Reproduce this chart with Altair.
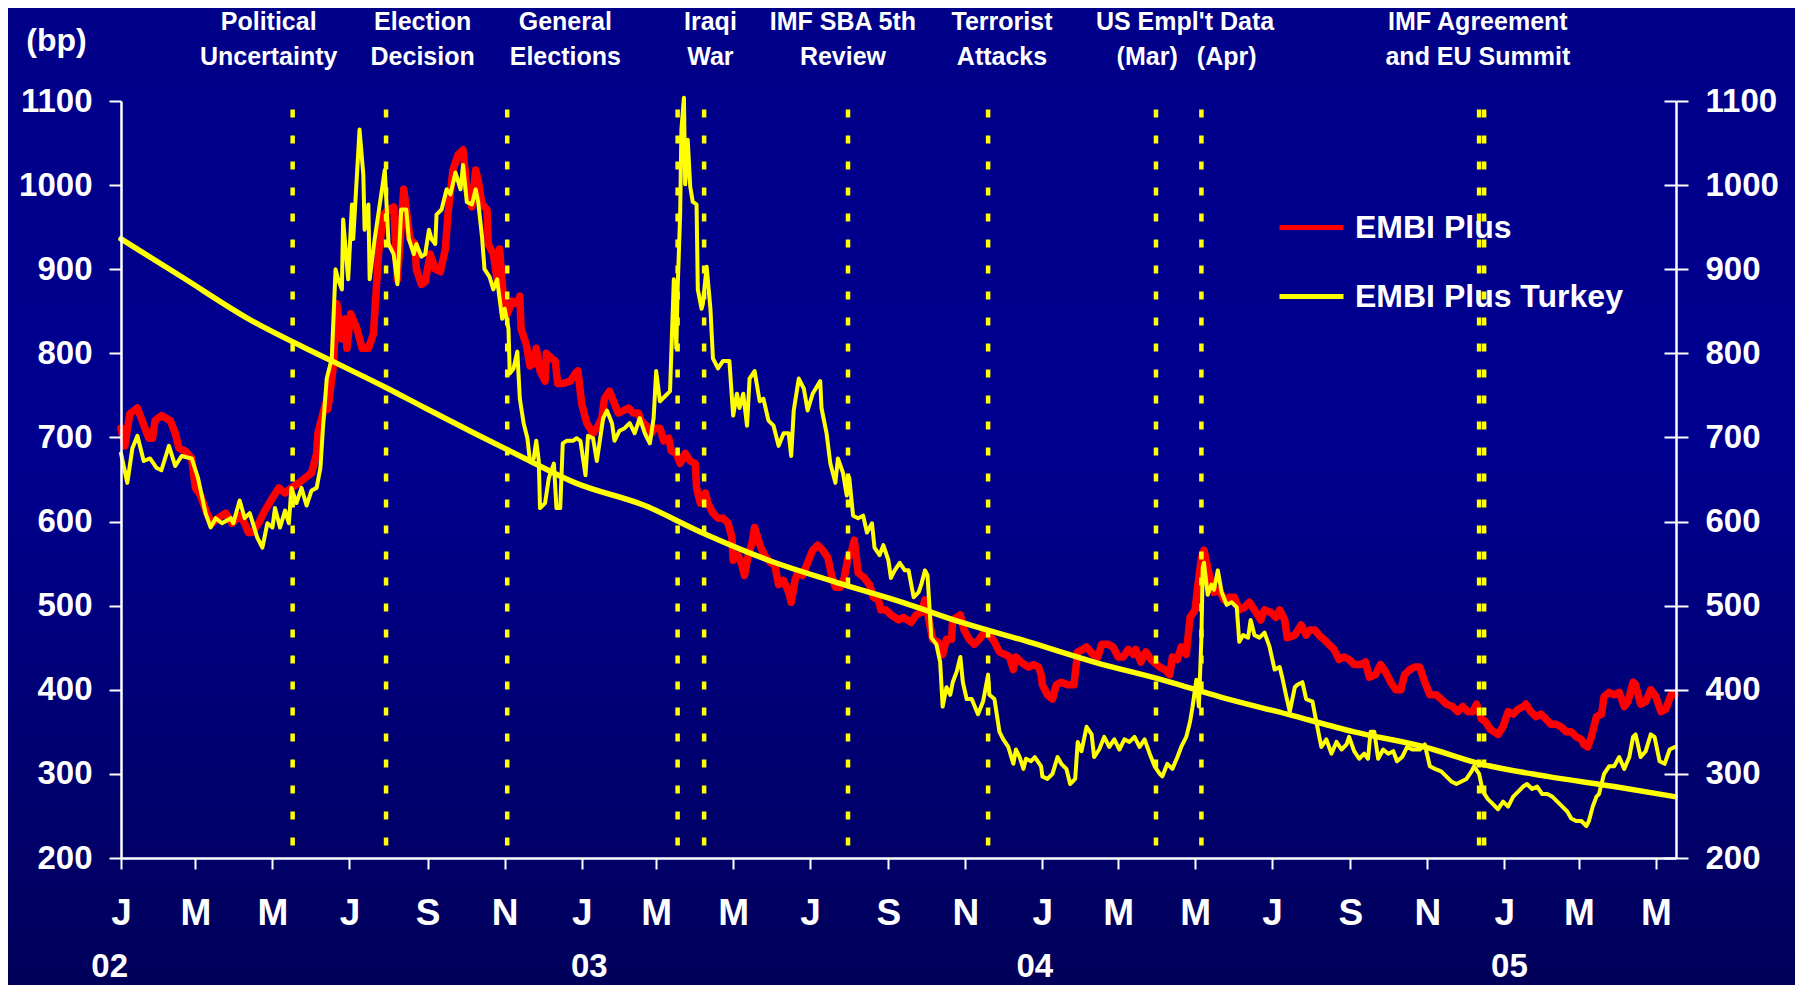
import altair as alt
import pandas as pd

FONT = "Liberation Sans"
WHITE = "#FFFFFF"
RED = "#FF0000"
YELLOW = "#FFFF00"

# ---------------- data (days since 2002-01-01, spread in bp) ----------------
embi_plus = [
    (0,711),(3,690),(7,728),(13,735),(19,711),(22,699),(25,699),(27,720),(32,726),(39,720),(43,705),(46,687),
    (51,684),(56,675),(59,640),(63,631),(68,610),(72,598),(77,604),(83,610),(88,598),(94,607),(98,598),(101,587),
    (104,587),(109,598),(114,613),(120,628),(125,640),(130,634),(135,640),(141,646),(146,652),(151,658),(155,681),
    (156,705),(162,740),(164,734),(168,782),(171,859),(175,817),(178,841),(179,806),(182,847),(187,829),(191,806),
    (196,806),(200,823),(204,918),(208,965),
    (212,971),(216,974),(219,888),(224,995),(226,971),(229,936),(233,930),(234,900),(238,882),(241,885),(245,918),
    (249,900),(253,897),(257,924),(259,965),(263,1018),(267,1036),(271,1042),(274,995),(278,974),(281,1018),
    (283,1006),(286,977),(290,971),(291,930),(295,918),(298,888),(300,924),(303,865),(306,847),(310,862),(314,859),
    (316,868),(317,829),(321,811),(324,785),(327,788),(329,806),(332,779),(336,767),(337,800),(341,794),(344,791),
    (346,764),(350,764),(356,767),(360,776),(362,779),(365,740),(369,717),(374,705),(377,711),(381,723),(383,746),
    (387,755),(391,740),(394,729),(398,732),(402,735),(406,729),(410,729),
    (412,720),(418,711),(420,705),(423,711),(427,711),(430,696),(434,699),(436,684),(440,681),(443,669),(447,681),
    (451,672),(455,669),(456,640),(459,622),(463,634),(465,622),(469,610),(473,604),(477,604),(481,598),(484,581),
    (485,554),(489,560),(492,548),(494,536),(497,560),(500,575),(502,593),(505,578),(507,569),(511,557),(515,551),
    (518,548),(521,525),(525,530),(529,516),(531,504),(534,530),(536,539),(540,536),(544,551),(548,566),(552,572),
    (556,566),(560,557),(563,536),(566,522),(570,522),(573,533),(576,557),(579,566),(581,578),(584,539),(589,533),
    (593,525),(596,510),(600,507),(602,495),(606,495),(610,489),(616,483),(620,486),
    (626,480),(630,489),(634,492),(637,507),(639,492),(643,460),(647,457),(651,442),(654,460),(658,460),(659,483),
    (665,489),(668,471),(672,460),(676,454),(680,460),(684,468),(688,465),(692,457),(696,445),(700,442),(704,439),
    (707,424),(709,439),(713,433),(719,427),(723,430),(727,427),(729,418),(730,406),(734,394),(738,389),(741,406),
    (745,409),(750,406),(755,406),(758,445),(762,448),(765,451),(770,442),(774,439),(777,454),(782,454),(786,451),
    (790,439),(794,439),(798,448),(802,442),(804,448),(808,433),(812,445),(816,436),
    (823,427),(827,424),(831,418),(833,439),(837,436),(840,451),(844,442),(847,486),(851,495),(853,522),(856,557),
    (858,566),(861,545),(864,525),(866,516),(870,519),(874,507),(878,510),(882,510),(886,495),(890,498),(894,504),
    (898,495),(903,483),(906,495),(911,492),(915,486),(918,495),(922,483),(924,462),(930,465),(935,477),(939,465),
    (942,471),(946,471),(949,465),(953,460),(957,454),(961,448),(965,436),(969,439),(973,436),(977,430),(982,430),
    (986,433),(989,415),(994,418),(998,430),(1002,421),(1006,409),(1010,400),(1014,400),(1017,418),(1021,424),
    (1025,427),(1029,427),(1033,409),(1037,394),(1042,394),(1046,389),(1050,383),(1055,380),(1059,374),(1063,380),
    (1067,374),(1071,374),(1074,383),(1078,365),(1081,362),(1085,353),(1091,347),(1095,356),(1099,374),(1103,371),
    (1107,377),(1111,380),(1113,383),(1117,374),(1121,368),(1125,371),(1129,365),(1133,359),(1137,359),(1141,356),
    (1145,350),(1149,350),(1153,344),(1157,341),(1159,335),(1162,332),(1165,344),(1169,368),(1173,371),(1175,392),
    (1179,397),(1183,394),(1187,397),(1191,380),(1194,386),(1198,409),(1200,406),(1204,383),(1208,386),(1212,400),
    (1216,392),(1220,374),(1224,377),(1228,394),(1231,394),
]

embi_plus_turkey = [
    (0,681),(5,646),(9,687),(13,702),(18,672),(23,675),(28,664),(32,661),(38,690),(43,666),(48,678),(56,675),
    (61,652),(67,610),(71,593),(75,604),(80,598),(87,604),(89,598),(94,625),(98,604),(102,610),(108,581),(112,569),
    (116,598),(120,593),(122,616),(126,593),(130,613),(133,598),(135,640),(139,622),(143,640),(147,619),(151,637),
    (155,640),(158,664),(160,711),(163,770),(167,794),(170,900),(172,888),(175,876),(176,959),(180,888),(183,977),
    (184,936),(189,1066),(192,1012),(193,947),(196,977),(197,888),(201,936),(205,977),(209,1018),
    (212,930),(216,918),(219,882),(222,971),(226,971),(228,936),(232,918),(234,930),(238,915),(241,918),(244,947),
    (246,936),(249,930),(250,965),(254,971),(258,995),(261,989),(265,1015),(269,995),(271,1024),(274,980),(278,977),
    (281,995),(283,980),(286,939),(288,900),(292,891),(295,876),(298,888),(302,841),(304,853),(307,829),(308,776),
    (311,782),(314,802),(316,746),(319,717),(322,699),(324,672),(327,675),(329,696),(331,672),(332,616),(336,622),
    (339,652),(343,669),(345,616),(348,616),(350,693),(353,696),(358,696),(361,699),(364,696),(368,655),(370,702),
    (374,699),(377,672),(382,723),(385,732),(389,717),(391,696),(395,708),(399,711),(403,717),(407,705),(411,723),
    (415,705),(419,693),(422,723),(424,779),(427,743),(431,749),(435,755),(438,888),(440,806),(441,876),(443,965),
    (444,1066),(446,1104),(447,1001),(449,1054),(451,998),(453,980),(456,977),(457,876),(460,853),(461,859),
    (464,903),(467,853),(469,794),(473,782),(477,791),(482,791),(485,726),(488,752),(490,735),(493,752),(496,714),
    (498,770),(502,779),(506,743),(509,746),(513,720),(517,714),(521,690),(525,705),(529,705),(531,678),(533,732),
    (537,770),(541,758),(544,732),(548,752),(554,767),(555,735),(559,705),(562,669),(566,646),(568,675),(572,658),
    (575,631),(577,652),(580,607),(584,604),(588,607),(591,587),(595,598),(597,569),(601,560),(604,572),(608,554),
    (610,533),(613,542),(617,551),(621,542),
    (624,542),(628,510),(632,516),(634,525),(637,542),(639,536),(642,462),(646,454),(649,433),(651,380),(654,403),
    (657,394),(659,409),(662,421),(665,439),(667,409),(670,389),(674,389),(679,371),(683,386),(687,418),(688,394),
    (692,389),(696,350),(699,341),(703,332),(707,312),(709,329),(712,320),(715,306),(717,318),(721,315),(724,320),
    (729,309),(730,297),(734,294),(738,300),(742,320),(745,312),(749,306),(752,288),(756,294),(758,338),(761,327),
    (765,356),(769,347),(771,320),(775,329),(779,344),(783,332),(787,341),(791,329),(795,341),(799,338),(803,344),
    (807,332),(811,341),(815,324),
    (819,309),(823,300),(825,297),(829,312),(833,306),(837,320),(840,332),(844,344),(847,362),(849,380),(852,412),
    (854,380),(856,462),(857,545),(858,551),(861,513),(864,525),(866,519),(869,542),(872,516),(876,501),(880,504),
    (884,498),(886,457),(889,465),(893,462),(895,483),(898,465),(902,462),(906,468),(910,451),(914,424),(918,427),
    (920,415),(923,394),(926,374),(930,403),(932,406),(936,409),(939,389),(944,386),(947,362),(951,332),(955,341),
    (959,324),(963,338),(967,329),(971,335),(973,344),(977,327),(981,318),(985,324),(988,318),(990,350),(993,350),
    (996,318),(1000,329),(1004,324),(1008,327),(1011,315),(1015,320),(1019,332),(1023,329),
    (1029,329),(1033,335),(1037,309),(1041,306),(1046,303),(1050,297),(1054,291),(1058,288),(1062,291),(1066,294),
    (1070,303),(1072,309),(1076,300),(1079,279),(1083,270),(1087,264),(1091,258),(1095,267),(1099,261),(1103,273),
    (1107,279),(1111,285),(1114,288),(1118,282),(1122,285),(1126,276),(1130,276),(1134,273),(1138,267),(1142,261),
    (1146,255),(1149,247),(1153,244),(1157,244),(1161,238),(1163,244),(1166,261),(1169,273),(1171,276),(1175,300),
    (1179,309),(1183,309),(1187,320),(1191,306),(1195,320),(1198,344),(1200,347),(1204,320),(1208,327),(1212,347),
    (1215,344),(1219,315),(1223,312),(1227,329),(1231,332),
]

trend = [
    (0,936),(48,891),(101,841),(167,791),(209,760),(241,735),(280,705),(320,675),(360,646),(415,619),(460,587),
    (513,554),(566,528),(621,503),(666,480),(719,457),(771,433),(827,411),(872,391),(924,371),(977,350),(1033,332),
    (1077,312),(1130,297),(1183,285),(1231,273),
]

series_names = ["EMBI Plus", "EMBI Plus Turkey"]
series_colors = [RED, YELLOW]

event_dates = ["2002-05-17", "2002-07-30", "2002-11-03", "2003-03-18", "2003-04-08", "2003-07-31",
               "2003-11-19", "2004-03-31", "2004-05-06", "2004-12-12", "2004-12-16"]

label1_text = ["Political", "Election", "General", "Iraqi", "IMF SBA 5th", "Terrorist", "US Empl't Data", "IMF Agreement"]
label1_dates = ["2002-04-28", "2002-08-28", "2002-12-19", "2003-04-13", "2003-07-27", "2003-11-30", "2004-04-23", "2004-12-11"]
label2_text = ["Uncertainty", "Decision", "Elections", "War", "Review", "Attacks", "(Mar)", "(Apr)", "and EU Summit"]
label2_dates = ["2002-04-28", "2002-08-28", "2002-12-19", "2003-04-13", "2003-07-27", "2003-11-30", "2004-03-24", "2004-05-26", "2004-12-11"]

tick_dates = ["2002-01-01", "2002-03-01", "2002-05-01", "2002-07-01", "2002-09-01", "2002-11-01",
              "2003-01-01", "2003-03-01", "2003-05-01", "2003-07-01", "2003-09-01", "2003-11-01",
              "2004-01-01", "2004-03-01", "2004-05-01", "2004-07-01", "2004-09-01", "2004-11-01",
              "2005-01-01", "2005-03-01", "2005-05-01"]
year_labels = ["02", "03", "04", "05"]
year_label_dates = ["2001-12-23", "2003-01-07", "2003-12-26", "2005-01-05"]
y_ticks = [200, 300, 400, 500, 600, 700, 800, 900, 1000, 1100]

# ---------------- tables ----------------
START = pd.Timestamp("2002-01-01")


def day_to_date(d):
    return (START + pd.Timedelta(days=d)).strftime("%Y-%m-%d")


red_df = pd.DataFrame({"date": [day_to_date(d) for d, _ in embi_plus],
                       "value": [v for _, v in embi_plus], "series": series_names[0]})
yel_df = pd.DataFrame({"date": [day_to_date(d) for d, _ in embi_plus_turkey],
                       "value": [v for _, v in embi_plus_turkey], "series": series_names[1]})
trend_df = pd.DataFrame({"date": [day_to_date(d) for d, _ in trend], "value": [v for _, v in trend]})
event_df = pd.DataFrame({"date": event_dates, "top": 1090, "bottom": 200})
lab1_df = pd.DataFrame({"date": label1_dates, "text": label1_text})
lab2_df = pd.DataFrame({"date": label2_dates, "text": label2_text})
year_df = pd.DataFrame({"date": year_label_dates, "text": year_labels})

W, H = 1555, 757
PAD = {"left": 113, "top": 93, "right": 119, "bottom": 127}


def dt(s):
    return alt.DateTime(year=int(s[:4]), month=int(s[5:7]), date=int(s[8:10]), utc=True)


x_axis = alt.Axis(values=[dt(s) for s in tick_dates],
                  labelExpr="substring(utcFormat(datum.value, '%b'), 0, 1)",
                  title=None, grid=False, zindex=1,
                  domainColor=WHITE, domainWidth=2.5, tickColor=WHITE, tickWidth=2, tickSize=11,
                  labelColor=WHITE, labelFont=FONT, labelFontSize=37, labelFontWeight="bold",
                  labelPadding=26, labelFlush=False, labelOverlap=False, labelBound=False)
x_scale = alt.Scale(type="utc", domain=[dt("2002-01-01"), dt("2005-05-17")])
X = alt.X("date:T", scale=x_scale, axis=x_axis)

y_scale = alt.Scale(domain=[200, 1100], nice=False, zero=False)
y_left = alt.Axis(orient="left", values=y_ticks, format="d", grid=False, zindex=1,
                  title="(bp)", titleAngle=0, titleX=-65, titleY=-61, titleAlign="center",
                  titleBaseline="middle", titleFont=FONT, titleFontSize=32, titleFontWeight="bold",
                  titleColor=WHITE,
                  labelColor=WHITE, labelFont=FONT, labelFontSize=33, labelFontWeight="bold",
                  labelPadding=17, tickSize=12, tickWidth=2, tickColor=WHITE,
                  domainColor=WHITE, domainWidth=2.5)
y_right = alt.Axis(orient="right", values=y_ticks, format="d", grid=False, zindex=1, title=None,
                   labelColor=WHITE, labelFont=FONT, labelFontSize=33, labelFontWeight="bold",
                   labelPadding=17, tickSize=12, tickWidth=2, tickColor=WHITE,
                   domainColor=WHITE, domainWidth=2.5)
y_right_inner = alt.Axis(orient="right", values=y_ticks, grid=False, zindex=1, title=None,
                         offset=-12, domain=False, labels=False,
                         tickSize=12, tickWidth=2, tickColor=WHITE)

color = alt.Color("series:N",
                  scale=alt.Scale(domain=series_names, range=series_colors),
                  legend=alt.Legend(title=None, orient="none", legendX=1156, legendY=92,
                                    symbolType="stroke", symbolSize=4096, symbolStrokeWidth=5,
                                    labelFont=FONT, labelFontSize=32, labelFontWeight="bold",
                                    labelColor=WHITE, labelOffset=9, labelLimit=600,
                                    rowPadding=18, padding=0))

# background gradient
bg = alt.Chart(alt.Data(values=[{}])).mark_rect(
    color=alt.Gradient(gradient="linear", x1=0, x2=0, y1=0, y2=1,
                       stops=[alt.GradientStop(color="#000088", offset=0),
                              alt.GradientStop(color="#000090", offset=0.45),
                              alt.GradientStop(color="#00005A", offset=1)])
).encode(x=alt.value(-PAD["left"]), x2=alt.value(W + PAD["right"]),
         y=alt.value(-PAD["top"]), y2=alt.value(H + PAD["bottom"]))

red_line = alt.Chart(red_df).mark_line(strokeWidth=7.5, strokeJoin="round", strokeCap="round").encode(
    x=X, y=alt.Y("value:Q", scale=y_scale, axis=y_left), color=color)
yel_line = alt.Chart(yel_df).mark_line(strokeWidth=4, strokeJoin="round", strokeCap="round").encode(
    x=X, y=alt.Y("value:Q", scale=y_scale, axis=y_left), color=color)
trend_line = alt.Chart(trend_df).mark_line(strokeWidth=5.5, color=YELLOW, strokeCap="round",
                                           interpolate="monotone").encode(
    x=X, y=alt.Y("value:Q", scale=y_scale, axis=y_left))
events = alt.Chart(event_df).mark_rule(color=YELLOW, strokeWidth=4.5, strokeDash=[8, 18]).encode(
    x=X, y=alt.Y("top:Q", scale=y_scale, axis=y_left), y2="bottom:Q")

txt = dict(font=FONT, fontWeight="bold", color=WHITE, align="center")
lab1 = alt.Chart(lab1_df).mark_text(fontSize=25, baseline="alphabetic", **txt).encode(
    x=X, y=alt.value(-71), text="text:N")
lab2 = alt.Chart(lab2_df).mark_text(fontSize=25, baseline="alphabetic", **txt).encode(
    x=X, y=alt.value(-36), text="text:N")
years = alt.Chart(year_df).mark_text(fontSize=33, baseline="bottom", **txt).encode(
    x=X, y=alt.value(H + 126), text="text:N")

main = alt.layer(bg, red_line, yel_line, trend_line, events, lab1, lab2, years)

right_axis = alt.Chart(trend_df).mark_line(opacity=0).encode(
    x=X, y=alt.Y("value:Q", scale=y_scale, axis=y_right))
right_inner = alt.Chart(trend_df).mark_line(opacity=0).encode(
    x=X, y=alt.Y("value:Q", scale=y_scale, axis=y_right_inner))

chart = alt.layer(main, right_axis, right_inner).resolve_scale(y="independent").properties(
    width=W, height=H, autosize=alt.AutoSizeParams(type="none"), padding=PAD, background="#000080"
).configure_view(strokeWidth=0)

chart.save("out.html", embed_options={"renderer": "svg", "actions": False})
